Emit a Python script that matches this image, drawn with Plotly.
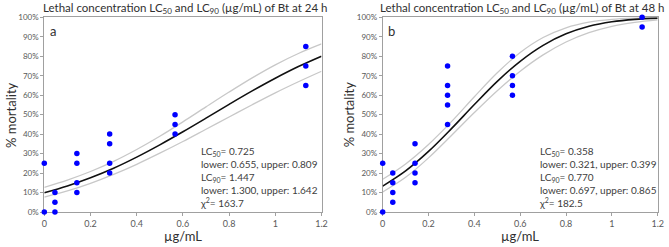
import plotly.graph_objects as go

# ---------------- data ----------------
# panel a (24 h) observed mortality
a_x = [0, 0, 0.046, 0.046, 0.046, 0.141, 0.141, 0.141, 0.141,
       0.283, 0.283, 0.283, 0.283, 0.566, 0.566, 0.566, 1.132, 1.132, 1.132]
a_y = [0.25, 0.0, 0.10, 0.05, 0.0, 0.30, 0.25, 0.15, 0.10,
       0.40, 0.35, 0.25, 0.20, 0.50, 0.45, 0.40, 0.85, 0.75, 0.65]
# panel b (48 h) observed mortality
b_x = [0, 0, 0.044, 0.044, 0.044, 0.044, 0.141, 0.141, 0.141, 0.141,
       0.283, 0.283, 0.283, 0.283, 0.283, 0.566, 0.566, 0.566, 0.566, 1.132, 1.132]
b_y = [0.25, 0.0, 0.20, 0.15, 0.10, 0.05, 0.35, 0.25, 0.20, 0.15,
       0.75, 0.65, 0.60, 0.55, 0.45, 0.80, 0.70, 0.65, 0.60, 1.00, 0.95]

# fitted curves
curve_x = [0, 0.1, 0.2, 0.3, 0.4, 0.5, 0.6, 0.7, 0.8, 0.9, 1.0, 1.1, 1.2]
a_fit = [0.099, 0.134, 0.176, 0.225, 0.282, 0.345, 0.412, 0.482, 0.553, 0.622, 0.687, 0.747, 0.800]
a_up = [0.127, 0.164, 0.208, 0.260, 0.321, 0.389, 0.463, 0.540, 0.616, 0.689, 0.756, 0.814, 0.863]
a_lo = [0.076, 0.108, 0.147, 0.193, 0.245, 0.302, 0.362, 0.425, 0.488, 0.551, 0.612, 0.669, 0.723]
b_fit = [0.133, 0.211, 0.311, 0.428, 0.552, 0.671, 0.774, 0.856, 0.915, 0.954, 0.977, 0.9895, 0.9956]
b_up = [0.168, 0.247, 0.347, 0.464, 0.592, 0.715, 0.819, 0.896, 0.946, 0.975, 0.9896, 0.9961, 0.9987]
b_lo = [0.103, 0.178, 0.278, 0.393, 0.511, 0.623, 0.723, 0.807, 0.873, 0.921, 0.954, 0.974, 0.987]

x_ticks = [0, 0.2, 0.4, 0.6, 0.8, 1.0, 1.2]
x_tick_labels = ["0", "0.2", "0.4", "0.6", "0.8", "1", "1.2"]
y_ticks = [i / 10 for i in range(11)]
y_tick_labels = [f"{i * 10}%" for i in range(11)]

titles = ["Lethal concentration LC<sub>50</sub> and LC<sub>90</sub> (µg/mL) of Bt at 24 h",
          "Lethal concentration LC<sub>50</sub> and LC<sub>90</sub> (µg/mL) of Bt at 48 h"]
stats = ["LC<sub>50</sub>= 0.725<br>lower: 0.655, upper: 0.809<br>LC<sub>90</sub>= 1.447<br>lower: 1.300, upper: 1.642<br>χ<sup>2</sup>= 163.7",
         "LC<sub>50</sub>= 0.358<br>lower: 0.321, upper: 0.399<br>LC<sub>90</sub>= 0.770<br>lower: 0.697, upper: 0.865<br>χ<sup>2</sup>= 182.5"]
letters = ["a", "b"]

# ---------------- figure ----------------
W, H = 669, 247
FONT = "Lato"
fig = go.Figure()

panels = [
    dict(px=a_x, py=a_y, fit=a_fit, up=a_up, lo=a_lo, xa="x", ya="y"),
    dict(px=b_x, py=b_y, fit=b_fit, up=b_up, lo=b_lo, xa="x2", ya="y2"),
]
for p in panels:
    for band in (p["up"], p["lo"]):
        fig.add_trace(go.Scatter(x=curve_x, y=band, mode="lines", xaxis=p["xa"], yaxis=p["ya"],
                                 line=dict(color="#c8c8c8", width=1.3, shape="spline"),
                                 hoverinfo="skip", showlegend=False))
    fig.add_trace(go.Scatter(x=curve_x, y=p["fit"], mode="lines", xaxis=p["xa"], yaxis=p["ya"],
                             line=dict(color="#111111", width=1.6, shape="spline"),
                             showlegend=False))
    fig.add_trace(go.Scatter(x=p["px"], y=p["py"], mode="markers", xaxis=p["xa"], yaxis=p["ya"],
                             marker=dict(color="#0000ff", size=5.5), cliponaxis=False,
                             showlegend=False))

y0 = (H - 212) / H
y1 = (H - 17.3) / H
xdoms = [[44.3 / W, 321.5 / W], [382.7 / W, 657.7 / W]]

axis_common = dict(showgrid=False, zeroline=False, showline=True, linecolor="#a0a0a0",
                   linewidth=1, mirror=True, ticks="outside", ticklen=3, tickcolor="#a0a0a0",
                   automargin=False, layer="below traces")

layout = dict(width=W, height=H, margin=dict(l=0, r=0, t=0, b=0, autoexpand=False),
              paper_bgcolor="white", plot_bgcolor="white",
              font=dict(family=FONT, color="#404040"), showlegend=False)
for i, sfx in enumerate(["", "2"]):
    layout["xaxis" + sfx] = dict(axis_common, domain=xdoms[i], range=[0, 1.2],
                                 tickvals=x_ticks, ticktext=x_tick_labels,
                                 tickfont=dict(size=9, color="#595959"),
                                 anchor="y" + sfx)
    layout["yaxis" + sfx] = dict(axis_common, domain=[y0, y1], range=[0, 1],
                                 tickvals=y_ticks, ticktext=y_tick_labels,
                                 tickfont=dict(size=8, color="#595959"),
                                 anchor="x" + sfx)
fig.update_layout(**layout)

ann = []
for i in range(2):
    xl, xr = xdoms[i]
    xc = (xl + xr) / 2
    ann.append(dict(text=titles[i], xref="paper", yref="paper", x=xc + 2 / W, y=(H - 8.5) / H,
                    showarrow=False, xanchor="center", yanchor="middle",
                    font=dict(size=11.5, color="#303030")))
    ann.append(dict(text="µg/mL", xref="paper", yref="paper", x=xc, y=(H - 236) / H,
                    showarrow=False, xanchor="center", yanchor="middle",
                    font=dict(size=13, color="#303030")))
    ann.append(dict(text="% mortality", xref="paper", yref="paper",
                    x=(xl * W - 34) / W, y=(y0 + y1) / 2, textangle=-90,
                    showarrow=False, xanchor="center", yanchor="middle",
                    font=dict(size=13, color="#303030")))
    ann.append(dict(text=letters[i], xref="paper", yref="paper",
                    x=(xl * W + 9) / W, y=(H - 31) / H,
                    showarrow=False, xanchor="center", yanchor="middle",
                    font=dict(size=13, color="#303030")))
    ann.append(dict(text=stats[i], xref="paper", yref="paper",
                    x=(xl * W + 154) / W, y=(H - 143) / H, align="left",
                    showarrow=False, xanchor="left", yanchor="top",
                    font=dict(size=10, color="#404040")))
fig.update_layout(annotations=ann)

fig.write_html("out.html", config={"displayModeBar": False},
               post_script="document.body.style.margin='0';document.body.style.overflow='hidden';")
